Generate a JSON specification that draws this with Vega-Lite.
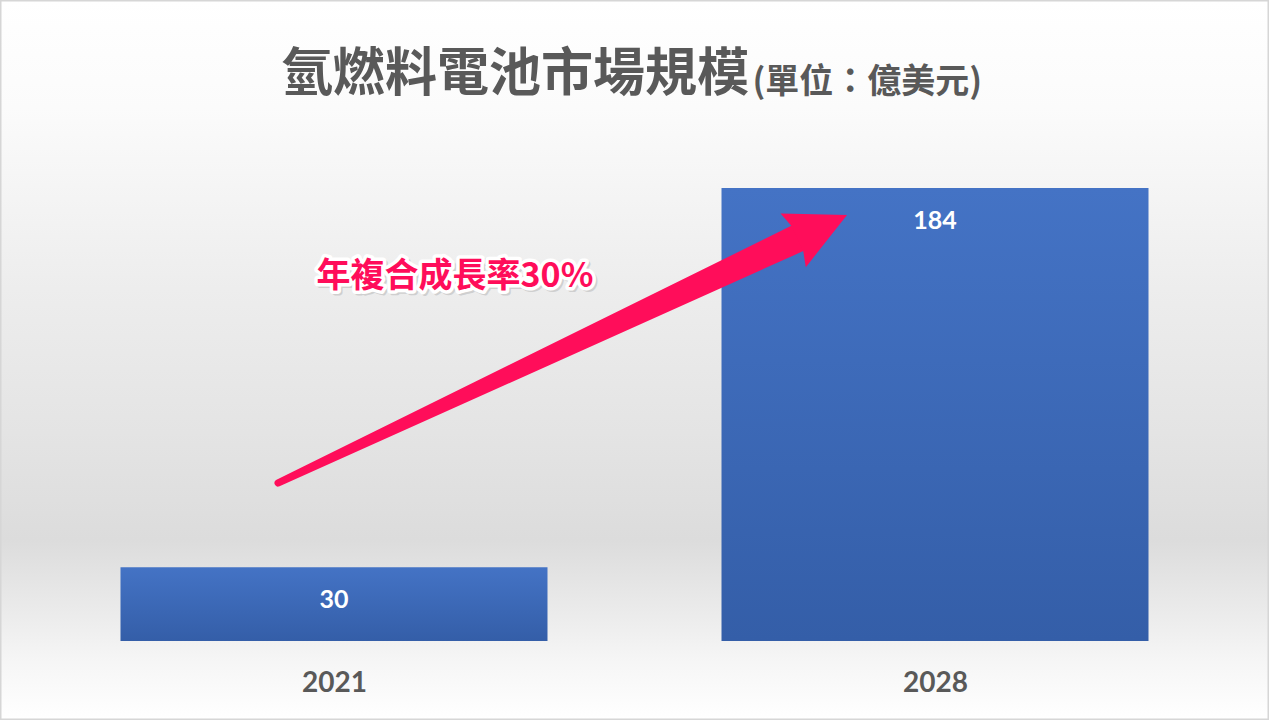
{
  "$schema": "https://vega.github.io/schema/vega-lite/v6.json",
  "width": 1269,
  "height": 531,
  "autosize": {"type": "none"},
  "padding": {"left": 0, "right": 0, "top": 110, "bottom": 79},
  "background": "#ffffff",
  "title": {
    "text": "氫燃料電池市場規模",
    "anchor": "start",
    "frame": "group",
    "dx": 281,
    "dy": 145,
    "offset": 0,
    "baseline": "alphabetic",
    "font": "Noto Sans CJK TC",
    "fontSize": 52,
    "fontWeight": "bold",
    "color": "#595959",
    "zindex": 1
  },
  "datasets": {
    "bars": [
      {"year": 2021, "value": 30},
      {"year": 2028, "value": 184}
    ],
    "arrow": [
      {"year": 2020.348, "value": 64.17},
      {"year": 2026.396, "value": 163.51}
    ],
    "head": [
      {"year": 2026.975, "value": 173.03}
    ],
    "label": [
      {"year": 2022.409, "value": 147.85, "text": "年複合成長率30%"}
    ],
    "frame": [
      {"top": 260.36, "bottom": -32.09}
    ]
  },
  "encoding": {
    "x": {
      "field": "year",
      "type": "quantitative",
      "scale": {"domain": [2017.11, 2031.89], "nice": false, "zero": false, "padding": 0},
      "axis": {
        "values": [2021, 2028],
        "format": "d",
        "title": null,
        "domain": false,
        "ticks": false,
        "tickSize": 0,
        "grid": false,
        "zindex": 1,
        "labelPadding": 42,
        "labelBaseline": "middle",
        "labelFont": "Lato",
        "labelFontSize": 28,
        "labelFontWeight": "bold",
        "labelColor": "#595959"
      }
    },
    "y": {
      "field": "value",
      "type": "quantitative",
      "scale": {"domain": [0, 215.68], "nice": false, "zero": true},
      "axis": {
        "title": "(單位：億美元)",
        "titleAngle": 0,
        "titleX": 752,
        "titleY": -18,
        "titleAlign": "left",
        "titleBaseline": "alphabetic",
        "titleFont": "Noto Sans CJK TC",
        "titleFontSize": 34,
        "titleFontWeight": "bold",
        "titleColor": "#595959",
        "zindex": 1,
        "labels": false,
        "ticks": false,
        "domain": false,
        "grid": false
      }
    }
  },
  "layer": [
    {
      "data": {"name": "frame"},
      "mark": {
        "type": "rect",
        "clip": false,
        "stroke": "#d6d6d6",
        "strokeWidth": 3,
        "fill": {
          "gradient": "linear",
          "x1": 0, "y1": 0, "x2": 0, "y2": 1,
          "stops": [
            {"offset": 0, "color": "#ffffff"},
            {"offset": 0.15, "color": "#fbfbfb"},
            {"offset": 0.4, "color": "#ededed"},
            {"offset": 0.6, "color": "#e4e4e4"},
            {"offset": 0.75, "color": "#dcdcdc"},
            {"offset": 0.85, "color": "#ebebeb"},
            {"offset": 0.92, "color": "#f6f6f6"},
            {"offset": 1, "color": "#ffffff"}
          ]
        }
      },
      "encoding": {
        "x": null,
        "y": {"field": "top", "type": "quantitative"},
        "y2": {"field": "bottom"}
      }
    },
    {
      "data": {"name": "bars"},
      "mark": {
        "type": "bar",
        "size": 427,
        "fill": {
          "gradient": "linear",
          "x1": 0, "y1": 0, "x2": 0, "y2": 1,
          "stops": [
            {"offset": 0, "color": "#4473c5"},
            {"offset": 1, "color": "#345ea8"}
          ]
        }
      }
    },
    {
      "data": {"name": "bars"},
      "mark": {
        "type": "text",
        "dy": 33,
        "baseline": "middle",
        "align": "center",
        "font": "Lato",
        "fontSize": 25,
        "fontWeight": "bold",
        "color": "#ffffff"
      },
      "encoding": {"text": {"field": "value", "type": "quantitative"}}
    },
    {
      "data": {"name": "arrow"},
      "mark": {"type": "trail", "color": "#ff0d5a", "opacity": 1},
      "encoding": {
        "size": {
          "field": "year",
          "type": "quantitative",
          "scale": {"domain": [2020.348, 2026.396], "range": [7, 28], "zero": false},
          "legend": null
        }
      }
    },
    {
      "data": {"name": "head"},
      "mark": {
        "type": "point",
        "shape": "M0,0 L-1.983,-0.987 L-1.833,-0.467 L-1.833,0.467 L-1.983,0.987 Z",
        "size": 3600,
        "angle": -25.22,
        "filled": true,
        "color": "#ff0d5a",
        "opacity": 1,
        "strokeWidth": 0
      }
    },
    {
      "data": {"name": "label"},
      "mark": {
        "type": "text",
        "dx": 2,
        "dy": 2,
        "baseline": "middle",
        "align": "center",
        "font": "Noto Sans CJK TC",
        "fontSize": 34,
        "fontWeight": "bold",
        "fill": "#9a9a9a",
        "stroke": "#9a9a9a",
        "strokeWidth": 6,
        "strokeJoin": "round",
        "opacity": 0.35
      },
      "encoding": {"text": {"field": "text"}}
    },
    {
      "data": {"name": "label"},
      "mark": {
        "type": "text",
        "baseline": "middle",
        "align": "center",
        "font": "Noto Sans CJK TC",
        "fontSize": 34,
        "fontWeight": "bold",
        "fill": "#ffffff",
        "stroke": "#ffffff",
        "strokeWidth": 7,
        "strokeJoin": "round"
      },
      "encoding": {"text": {"field": "text"}}
    },
    {
      "data": {"name": "label"},
      "mark": {
        "type": "text",
        "baseline": "middle",
        "align": "center",
        "font": "Noto Sans CJK TC",
        "fontSize": 34,
        "fontWeight": "bold",
        "color": "#ff0d5a"
      },
      "encoding": {"text": {"field": "text"}}
    }
  ],
  "config": {
    "view": {"stroke": null}
  }
}
